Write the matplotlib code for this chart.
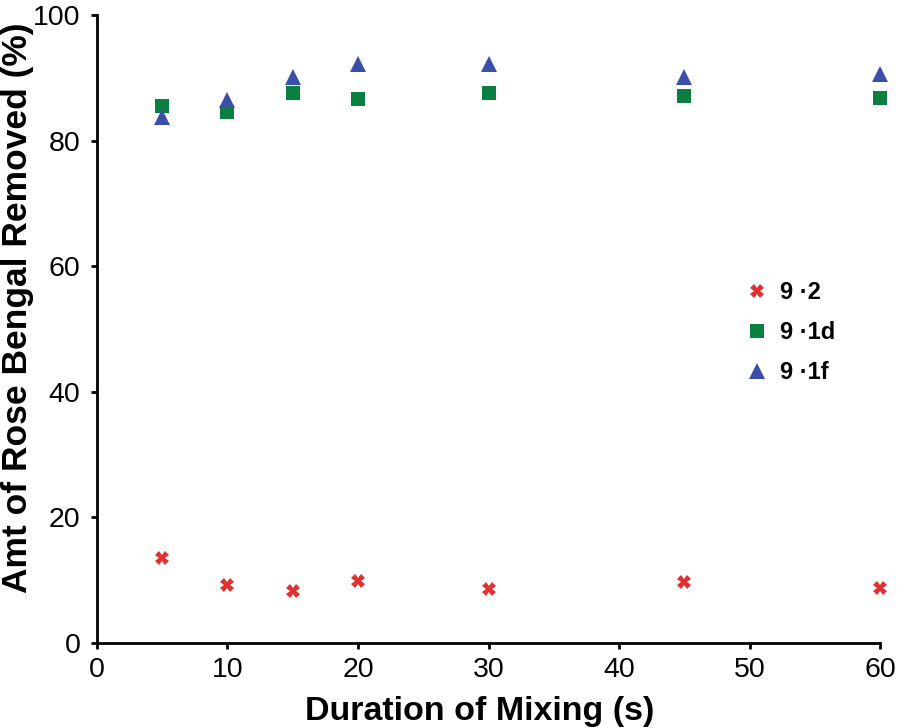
import matplotlib
matplotlib.use("Agg")
import matplotlib.pyplot as plt

plt.rcParams['font.family'] = ['Liberation Sans', 'DejaVu Sans']

x = [5, 10, 15, 20, 30, 45, 60]
s92 = [13.5, 9.2, 8.3, 9.9, 8.6, 9.7, 8.8]
s91d = [85.5, 84.6, 87.6, 86.6, 87.6, 87.1, 86.8]
s91f = [83.8, 86.5, 90.1, 92.2, 92.2, 90.1, 90.6]
labels = ["9 \u00b72", "9 \u00b71d", "9 \u00b71f"]

fig = plt.figure(figsize=(8.98, 7.28), dpi=100)
ax = fig.add_axes([0.108, 0.117, 0.872, 0.862])

ax.plot(x, s92, linestyle='none', marker='X', markersize=10, color='#e03030', markeredgewidth=0, label=labels[0], clip_on=False)
ax.plot(x, s91d, linestyle='none', marker='s', markersize=10, color='#0a8040', markeredgewidth=0, label=labels[1], clip_on=False)
ax.plot(x, s91f, linestyle='none', marker='^', markersize=11, color='#3a50a8', markeredgewidth=0, label=labels[2], clip_on=False)

ax.set_xlim(0, 60)
ax.set_ylim(0, 100)
ax.set_xticks(range(0, 61, 10))
ax.set_yticks(range(0, 101, 20))
for s in ['top', 'right']:
    ax.spines[s].set_visible(False)
for s in ['left', 'bottom']:
    ax.spines[s].set_linewidth(2)
ax.tick_params(axis='both', direction='out', length=4, width=2, labelsize=20.5)
ax.tick_params(axis='y', pad=8)
ax.tick_params(axis='x', pad=6)

ax.set_xlabel('Duration of Mixing (s)', fontsize=24.5, fontweight='bold',
              va='baseline', ha='center')
ax.xaxis.set_label_coords((480 - 97) / 783, (643 - 720) / 628)
ax.set_ylabel('Amt of Rose Bengal Removed (%)', fontsize=25.5, fontweight='bold',
              va='center', ha='center')
ax.yaxis.set_label_coords((18 - 97) / 783, (643 - 308) / 628)

leg = ax.legend(loc='center left', bbox_to_anchor=(0.816, 0.494), borderaxespad=0, frameon=False,
                prop={'size': 17, 'weight': 'bold'}, handletextpad=0.45, labelspacing=0.72,
                handlelength=1.0)

fig.savefig('out.png', dpi=100)
